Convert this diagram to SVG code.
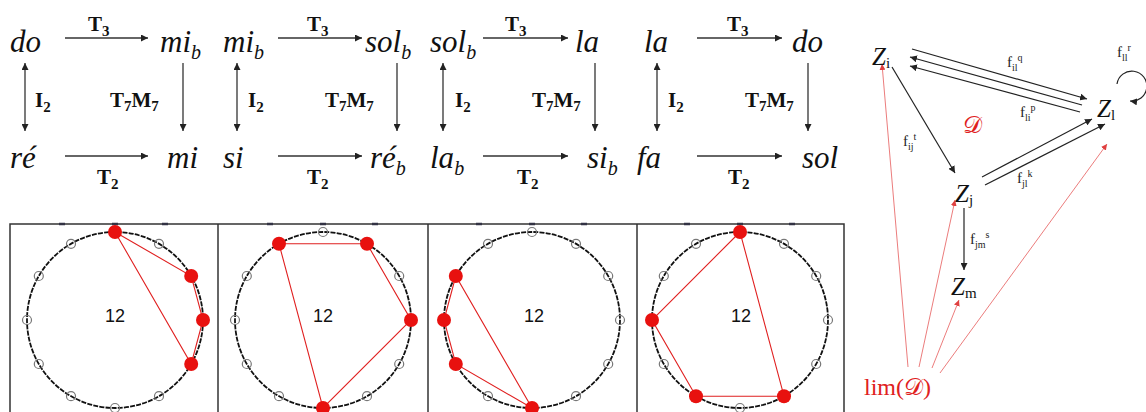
<svg xmlns="http://www.w3.org/2000/svg" width="1146" height="412" viewBox="0 0 1146 412">
<defs>
<style>
.note{font-family:"Liberation Serif",serif;font-style:italic;font-size:31px;fill:#111}
.sub{font-size:20px}
.lbl{font-family:"Liberation Serif",serif;font-weight:bold;font-size:21px;fill:#111}
.ls{font-size:15px}
.ar{stroke:#333;stroke-width:1.3;fill:none}
.frame{stroke:#333;stroke-width:1.5;fill:none}
.tick{stroke:#334;stroke-width:2.5}
.ring{stroke:#111;stroke-width:1.8;fill:none;stroke-dasharray:5 1.2}
.gray{stroke:#777;stroke-width:1.2;fill:none}
.red{fill:#e8110f}
.poly{stroke:#e02020;stroke-width:1.1;fill:none}
.num{font-family:"Liberation Sans",Arial,sans-serif;font-size:18px;fill:#111;text-anchor:middle}
.cat{font-family:"Liberation Serif",serif;font-size:15px;fill:#222}
.cs{font-size:10px}
.Z{font-family:"Liberation Serif",serif;font-style:italic;font-size:25px;fill:#111}
.D{font-family:"DejaVu Serif","Noto Sans",serif;font-size:24px;fill:#e02020}
.zs{font-style:normal;font-size:15px}
.bk{stroke:#222;stroke-width:1.2;fill:none}
.rd{stroke:#e65a5a;stroke-width:0.8;fill:none}
</style>
<marker id="ah" viewBox="0 0 10 10" refX="10" refY="5" markerWidth="7" markerHeight="7" markerUnits="userSpaceOnUse" orient="auto-start-reverse"><path d="M0,0 L10,5 L0,10 z" fill="#222"/></marker>
<marker id="ahr" viewBox="0 0 10 10" refX="10" refY="5" markerWidth="6" markerHeight="6" markerUnits="userSpaceOnUse" orient="auto"><path d="M0,0 L10,5 L0,10 z" fill="#e04040"/></marker>
</defs>

<g id="connectors">
<line class="ar" x1="65" y1="38" x2="148" y2="38" marker-end="url(#ah)"/>
<line class="ar" x1="65" y1="156" x2="148" y2="156" marker-end="url(#ah)"/>
<line class="ar" x1="25" y1="63" x2="25" y2="131" marker-start="url(#ah)" marker-end="url(#ah)"/>
<line class="ar" x1="183" y1="63" x2="183" y2="131" marker-end="url(#ah)"/>
<line class="ar" x1="278" y1="38" x2="362" y2="38" marker-end="url(#ah)"/>
<line class="ar" x1="278" y1="156" x2="362" y2="156" marker-end="url(#ah)"/>
<line class="ar" x1="237" y1="63" x2="237" y2="131" marker-start="url(#ah)" marker-end="url(#ah)"/>
<line class="ar" x1="397" y1="63" x2="397" y2="131" marker-end="url(#ah)"/>
<line class="ar" x1="483" y1="38" x2="568" y2="38" marker-end="url(#ah)"/>
<line class="ar" x1="483" y1="156" x2="568" y2="156" marker-end="url(#ah)"/>
<line class="ar" x1="443" y1="63" x2="443" y2="131" marker-start="url(#ah)" marker-end="url(#ah)"/>
<line class="ar" x1="595" y1="63" x2="595" y2="131" marker-end="url(#ah)"/>
<line class="ar" x1="697" y1="38" x2="782" y2="38" marker-end="url(#ah)"/>
<line class="ar" x1="697" y1="156" x2="782" y2="156" marker-end="url(#ah)"/>
<line class="ar" x1="657" y1="63" x2="657" y2="131" marker-start="url(#ah)" marker-end="url(#ah)"/>
<line class="ar" x1="808" y1="63" x2="808" y2="131" marker-end="url(#ah)"/>
<line class="bk" x1="912" y1="49" x2="1087" y2="99" marker-end="url(#ah)"/>
<line class="bk" x1="1082" y1="105" x2="910" y2="57" marker-end="url(#ah)"/>
<line class="bk" x1="1080" y1="112" x2="910" y2="66" marker-end="url(#ah)"/>
<line class="bk" x1="892" y1="67" x2="955" y2="173" marker-end="url(#ah)"/>
<line class="bk" x1="982" y1="177" x2="1092" y2="119" marker-end="url(#ah)"/>
<line class="bk" x1="985" y1="185" x2="1105" y2="124" marker-end="url(#ah)"/>
<line class="bk" x1="964" y1="208" x2="964" y2="270" marker-end="url(#ah)"/>
<path class="bk" d="M1117,84 A15,15 0 1 1 1130,101" marker-end="url(#ah)"/>
<line class="rd" x1="908" y1="367" x2="882" y2="64" marker-end="url(#ahr)"/>
<line class="rd" x1="919" y1="367" x2="955" y2="200" marker-end="url(#ahr)"/>
<line class="rd" x1="932" y1="368" x2="959" y2="300" marker-end="url(#ahr)"/>
<line class="rd" x1="940" y1="373" x2="1107" y2="144" marker-end="url(#ahr)"/>
</g>

<g id="square1">
<text class="note" x="10" y="52">do</text>
<text class="note" x="160" y="52">mi<tspan class="sub" dy="7">b</tspan></text>
<text class="note" x="10" y="168">ré</text>
<text class="note" x="167" y="168">mi</text>
<text class="lbl" x="88" y="31">T<tspan class="ls" dy="5">3</tspan></text>
<text class="lbl" x="97" y="184">T<tspan class="ls" dy="5">2</tspan></text>
<text class="lbl" x="35" y="107">I<tspan class="ls" dy="5">2</tspan></text>
<text class="lbl" x="110" y="107">T<tspan class="ls" dy="4">7</tspan><tspan dy="-4">M</tspan><tspan class="ls" dy="4">7</tspan></text>
</g>
<g id="square2">
<text class="note" x="223" y="52">mi<tspan class="sub" dy="7">b</tspan></text>
<text class="note" x="365" y="52">sol<tspan class="sub" dy="7">b</tspan></text>
<text class="note" x="223" y="168">si</text>
<text class="note" x="370" y="168">ré<tspan class="sub" dy="7">b</tspan></text>
<text class="lbl" x="307" y="31">T<tspan class="ls" dy="5">3</tspan></text>
<text class="lbl" x="307" y="184">T<tspan class="ls" dy="5">2</tspan></text>
<text class="lbl" x="248" y="107">I<tspan class="ls" dy="5">2</tspan></text>
<text class="lbl" x="325" y="107">T<tspan class="ls" dy="4">7</tspan><tspan dy="-4">M</tspan><tspan class="ls" dy="4">7</tspan></text>
</g>
<g id="square3">
<text class="note" x="430" y="52">sol<tspan class="sub" dy="7">b</tspan></text>
<text class="note" x="575" y="52">la</text>
<text class="note" x="430" y="168">la<tspan class="sub" dy="7">b</tspan></text>
<text class="note" x="587" y="168">si<tspan class="sub" dy="7">b</tspan></text>
<text class="lbl" x="505" y="31">T<tspan class="ls" dy="5">3</tspan></text>
<text class="lbl" x="517" y="184">T<tspan class="ls" dy="5">2</tspan></text>
<text class="lbl" x="455" y="107">I<tspan class="ls" dy="5">2</tspan></text>
<text class="lbl" x="532" y="107">T<tspan class="ls" dy="4">7</tspan><tspan dy="-4">M</tspan><tspan class="ls" dy="4">7</tspan></text>
</g>
<g id="square4">
<text class="note" x="644" y="52">la</text>
<text class="note" x="792" y="52">do</text>
<text class="note" x="637" y="168">fa</text>
<text class="note" x="802" y="168">sol</text>
<text class="lbl" x="727" y="31">T<tspan class="ls" dy="5">3</tspan></text>
<text class="lbl" x="728" y="184">T<tspan class="ls" dy="5">2</tspan></text>
<text class="lbl" x="668" y="107">I<tspan class="ls" dy="5">2</tspan></text>
<text class="lbl" x="745" y="107">T<tspan class="ls" dy="4">7</tspan><tspan dy="-4">M</tspan><tspan class="ls" dy="4">7</tspan></text>
</g>

<g id="frames">
<polyline class="frame" points="10,412 10,224 844,224 844,412"/>
<line class="frame" x1="218" y1="224" x2="218" y2="412"/>
<line class="frame" x1="428" y1="224" x2="428" y2="412"/>
<line class="frame" x1="637" y1="224" x2="637" y2="412"/>
<g class="tick">
<line x1="59" y1="224" x2="65" y2="224"/><line x1="112" y1="224" x2="118" y2="224"/><line x1="162" y1="224" x2="168" y2="224"/>
<line x1="267" y1="224" x2="273" y2="224"/><line x1="320" y1="224" x2="326" y2="224"/><line x1="372" y1="224" x2="378" y2="224"/>
<line x1="476" y1="224" x2="482" y2="224"/><line x1="529" y1="224" x2="535" y2="224"/><line x1="581" y1="224" x2="587" y2="224"/>
<line x1="684" y1="224" x2="690" y2="224"/><line x1="737" y1="224" x2="743" y2="224"/><line x1="789" y1="224" x2="795" y2="224"/>
</g>
</g>

<g id="circle1">
<circle class="ring" cx="115" cy="320" r="88"/>
<g class="gray"><circle cx="159" cy="243.8" r="4.5"/><circle cx="159" cy="396.2" r="4.5"/><circle cx="115" cy="408" r="4.5"/><circle cx="71" cy="396.2" r="4.5"/><circle cx="38.8" cy="364" r="4.5"/><circle cx="27" cy="320" r="4.5"/><circle cx="38.8" cy="276" r="4.5"/><circle cx="71" cy="243.8" r="4.5"/></g>
<polygon class="poly" points="115,232 191.2,276 203,320 191.2,364"/>
<g class="red"><circle cx="115" cy="232" r="7"/><circle cx="191.2" cy="276" r="7"/><circle cx="203" cy="320" r="7"/><circle cx="191.2" cy="364" r="7"/></g>
<text class="num" x="115" y="322">12</text>
</g>
<g id="circle2">
<circle class="ring" cx="323" cy="320" r="88"/>
<g class="gray"><circle cx="323" cy="232" r="4.5"/><circle cx="399.2" cy="276" r="4.5"/><circle cx="399.2" cy="364" r="4.5"/><circle cx="367" cy="396.2" r="4.5"/><circle cx="279" cy="396.2" r="4.5"/><circle cx="246.8" cy="364" r="4.5"/><circle cx="235" cy="320" r="4.5"/><circle cx="246.8" cy="276" r="4.5"/></g>
<polygon class="poly" points="279,243.8 367,243.8 411,320 323,408"/>
<g class="red"><circle cx="279" cy="243.8" r="7"/><circle cx="367" cy="243.8" r="7"/><circle cx="411" cy="320" r="7"/><circle cx="323" cy="408" r="7"/></g>
<text class="num" x="323" y="322">12</text>
</g>
<g id="circle3">
<circle class="ring" cx="532" cy="320" r="88"/>
<g class="gray"><circle cx="532" cy="232" r="4.5"/><circle cx="576" cy="243.8" r="4.5"/><circle cx="608.2" cy="276" r="4.5"/><circle cx="620" cy="320" r="4.5"/><circle cx="608.2" cy="364" r="4.5"/><circle cx="576" cy="396.2" r="4.5"/><circle cx="488" cy="396.2" r="4.5"/><circle cx="488" cy="243.8" r="4.5"/></g>
<polygon class="poly" points="532,408 455.8,364 444,320 455.8,276"/>
<g class="red"><circle cx="532" cy="408" r="7"/><circle cx="455.8" cy="364" r="7"/><circle cx="444" cy="320" r="7"/><circle cx="455.8" cy="276" r="7"/></g>
<text class="num" x="534" y="322">12</text>
</g>
<g id="circle4">
<circle class="ring" cx="740" cy="320" r="88"/>
<g class="gray"><circle cx="784" cy="243.8" r="4.5"/><circle cx="816.2" cy="276" r="4.5"/><circle cx="828" cy="320" r="4.5"/><circle cx="816.2" cy="364" r="4.5"/><circle cx="740" cy="408" r="4.5"/><circle cx="663.8" cy="364" r="4.5"/><circle cx="663.8" cy="276" r="4.5"/><circle cx="696" cy="243.8" r="4.5"/></g>
<polygon class="poly" points="740,232 652,320 696,396.2 784,396.2"/>
<g class="red"><circle cx="740" cy="232" r="7"/><circle cx="652" cy="320" r="7"/><circle cx="696" cy="396.2" r="7"/><circle cx="784" cy="396.2" r="7"/></g>
<text class="num" x="741" y="322">12</text>
</g>

<g id="Zi"><text class="Z" x="872" y="65">Z<tspan class="zs" dy="3">i</tspan></text></g>
<g id="Zl"><text class="Z" x="1097" y="117">Z<tspan class="zs" dy="3">l</tspan></text></g>
<g id="Zj"><text class="Z" x="955" y="202">Z<tspan class="zs" dy="3">j</tspan></text></g>
<g id="Zm"><text class="Z" x="951" y="295">Z<tspan class="zs" dy="3">m</tspan></text></g>
<g id="D"><text class="D" x="963" y="133">𝒟</text></g>
<g id="lim"><text class="D" x="864" y="395"><tspan font-family="Liberation Serif">lim(</tspan>𝒟<tspan font-family="Liberation Serif">)</tspan></text></g>
<g id="labels">
<text class="cat" x="1007" y="67">f<tspan class="cs" dy="4">il</tspan><tspan class="cs" dy="-10">q</tspan></text>
<text class="cat" x="1020" y="117">f<tspan class="cs" dy="4">li</tspan><tspan class="cs" dy="-10">p</tspan></text>
<text class="cat" x="1117" y="57">f<tspan class="cs" dy="4">ll</tspan><tspan class="cs" dy="-10">r</tspan></text>
<text class="cat" x="903" y="146">f<tspan class="cs" dy="4">ij</tspan><tspan class="cs" dy="-10">t</tspan></text>
<text class="cat" x="1017" y="183">f<tspan class="cs" dy="4">jl</tspan><tspan class="cs" dy="-10">k</tspan></text>
<text class="cat" x="970" y="244">f<tspan class="cs" dy="4">jm</tspan><tspan class="cs" dy="-10">s</tspan></text>
</g>
</svg>
